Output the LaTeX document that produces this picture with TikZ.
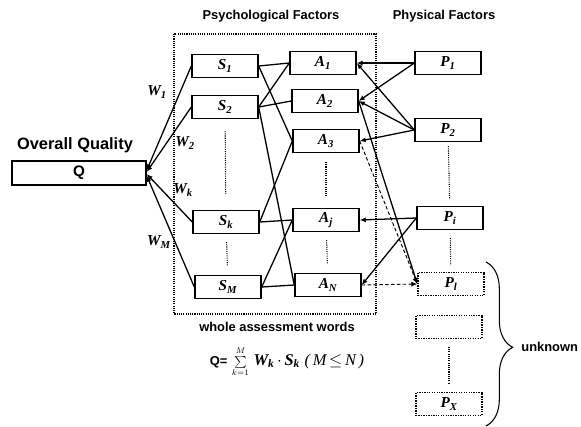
\documentclass[tikz,border=0pt]{standalone}
\usepackage{fontspec}
\setmainfont{Liberation Serif}
\setsansfont{Liberation Sans}
\usetikzlibrary{arrows.meta,positioning,decorations.pathreplacing}
\tikzset{
  box/.style={draw,line width=1.2pt,minimum width=19.8mm,minimum height=6.8mm,inner sep=0pt,font=\fontsize{13}{13}\selectfont\bfseries\itshape},
  ubox/.style={box,line width=1.1pt,densely dotted},
  ttl/.style={font=\sffamily\bfseries\fontsize{11}{13}\selectfont,inner sep=1pt},
  wlbl/.style={font=\fontsize{13}{13}\selectfont\bfseries\itshape,inner sep=1pt},
  ln/.style={line width=1.1pt},
  ar/.style={ln,-{Latex[length=1.8mm,width=1.5mm]}},
  dar/.style={ar,densely dashed,line width=0.8pt},
  vd/.style={line width=0.9pt,densely dotted,shorten <=2.5mm,shorten >=2.5mm},
}
\begin{document}
\begin{tikzpicture}[x=0.3mm,y=-0.3mm]
  \useasboundingbox (0,0) rectangle (581,426);
  % titles
  \node[ttl] (tpsy) at (271,16) {Psychological Factors};
  \node[ttl] (tphy) at (444,16) {Physical Factors};
  \node[ttl,font=\sffamily\bfseries\fontsize{14}{16}\selectfont] (tq) at (75,145) {Overall Quality};
  \node[box,minimum width=40.2mm,minimum height=7.2mm,font=\sffamily\bfseries\fontsize{13}{13}\selectfont] (Q) at (79,173) {Q};
  % frame of the assessment words
  \draw[line width=0.9pt,densely dotted] (174,34) rectangle (376,314);
  % psychological factors
  \node[box] (S1) at (225,66) {S\textsubscript{1}};
  \node[box] (S2) at (225,107) {S\textsubscript{2}};
  \node[box] (Sk) at (226,222) {S\textsubscript{k}};
  \node[box] (SM) at (228,287) {S\textsubscript{M}};
  \node[box] (A1) at (323,63) {A\textsubscript{1}};
  \node[box] (A2) at (325,101) {A\textsubscript{2}};
  \node[box] (A3) at (326,141) {A\textsubscript{3}};
  \node[box] (Aj) at (326,220) {A\textsubscript{j}};
  \node[box] (AN) at (328,285) {A\textsubscript{N}};
  % physical factors
  \node[box] (P1) at (448,63) {P\textsubscript{1}};
  \node[box] (P2) at (448,130) {P\textsubscript{2}};
  \node[box] (Pi) at (450,218) {P\textsubscript{i}};
  \node[ubox] (Pl) at (451,284) {P\textsubscript{l}};
  \node[ubox] (Pe) at (449,327) {};
  \node[ubox] (Px) at (449,404) {P\textsubscript{X}};
  % weights
  \node[wlbl] (W1) at (157,92) {W\textsubscript{1}};
  \node[wlbl] (W2) at (185,143) {W\textsubscript{2}};
  \node[wlbl] (Wk) at (183,190) {W\textsubscript{k}};
  \node[wlbl] (WM) at (159,242) {W\textsubscript{M}};
  % dotted continuations
  \draw[vd,shorten <=3.6mm,shorten >=4.8mm] (S2) -- (Sk);
  \draw[vd,shorten <=2.4mm,shorten >=2.7mm] (Sk) -- (SM);
  \draw[vd,shorten <=2.7mm,shorten >=3.6mm] (A3) -- (Aj);
  \draw[vd,shorten <=2.4mm,shorten >=2.7mm] (Aj) -- (AN);
  \draw[vd,shorten <=1.2mm,shorten >=2.1mm] (P2) -- (Pi);
  \draw[vd,shorten <=2.4mm,shorten >=2.1mm] (Pi) -- (Pl);
  \draw[vd,shorten <=2.4mm,shorten >=2.4mm] (Pe) -- (Px);
  % weights into Q
  \draw[ar] (S1.west) -- ([yshift=0.8mm]Q.east);
  \draw[ar] (S2.west) -- ([yshift=0.3mm]Q.east);
  \draw[ar] (Sk.west) -- ([yshift=-0.3mm]Q.east);
  \draw[ar] (SM.west) -- ([yshift=-0.8mm]Q.east);
  % words to factors
  \draw[ln] (S1.east) -- (A1.west);
  \draw[ln] (S1.east) -- (A3.west);
  \draw[ln] (S2.east) -- (A1.west);
  \draw[ln] (S2.east) -- (A2.west);
  \draw[ln] (S2.east) -- (AN.west);
  \draw[ln] (Sk.east) -- (A3.west);
  \draw[ln] (Sk.east) -- (Aj.west);
  \draw[ln] (SM.east) -- (Aj.west);
  \draw[ln] (SM.east) -- (AN.west);
  % physical factors to words
  \draw[ar] (P1.west) -- (A1.east);
  \draw[ar] (P1.west) -- (A2.east);
  \draw[ar] (P2.west) -- (A1.east);
  \draw[ar] (P2.west) -- (A2.east);
  \draw[ar] (P2.west) -- (A3.east);
  \draw[ar] (Pi.west) -- (Aj.east);
  \draw[ar] (Pi.west) -- (AN.east);
  \draw[ar] (A2.east) -- (Pl.west);
  \draw[dar] (A3.east) -- (Pl.west);
  \draw[dar] (AN.east) -- (Pl.west);
  % unknown factors
  \draw[decorate,decoration={brace,amplitude=8mm,aspect=0.52},line width=0.9pt] (486,262) -- (486,426);
  \node[ttl,anchor=west] (unk) at (520,347) {unknown};
  % bottom texts
  \node[ttl,inner sep=0pt] (wwords) at (277,327) {whole assessment words};
  \node[inner sep=0pt,font=\fontsize{14}{14}\selectfont] (eq) at (287,362) {\textsf{\bfseries\fontsize{11}{11}\selectfont Q=}\;{\fontsize{10}{10}\selectfont$\sum\limits_{k=1}^{M}$}\;\textbf{\textit{W\textsubscript{k}}}\,$\cdot$\,\textbf{\textit{S\textsubscript{k}}}\;\textit{(\,M\,$\le$\,N\,)}};
\end{tikzpicture}
\end{document}
